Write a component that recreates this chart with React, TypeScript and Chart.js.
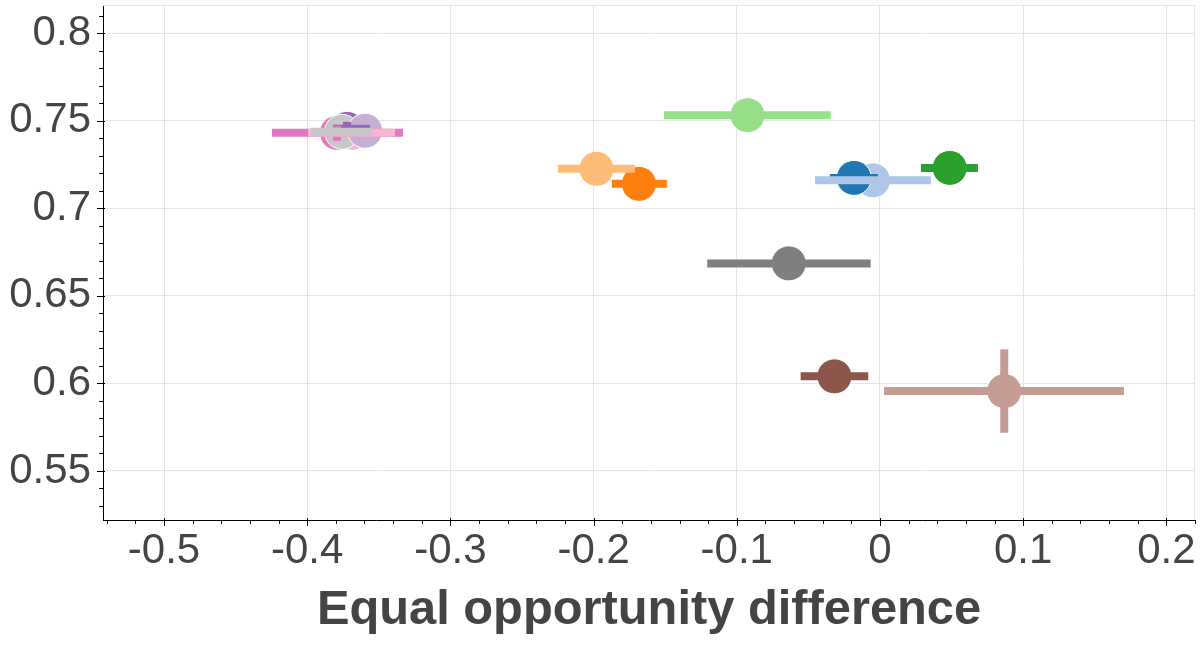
import React, { useEffect, useRef } from "react";
import { Chart, registerables } from "chart.js";

Chart.register(...registerables);

// one entry per model
const COLORS = [
  "#1f77b4", "#aec7e8", "#ff7f0e", "#ffbb78", "#2ca02c", "#98df8a", "#9467bd",
  "#c5b0d5", "#8c564b", "#c49c94", "#e377c2", "#f7b6d2", "#7f7f7f", "#c7c7c7",
];
const X_VALUES = [
  -0.0182, -0.0049, -0.1683, -0.198, 0.0487, -0.0925, -0.3722,
  -0.3596, -0.0318, 0.0868, -0.3792, -0.3687, -0.0637, -0.3757,
];
const Y_VALUES = [
  0.7173, 0.7159, 0.7139, 0.7225, 0.723, 0.7531, 0.7453,
  0.7442, 0.604, 0.5956, 0.743, 0.743, 0.6685, 0.7436,
];
const X_LOW = [
  -0.035, -0.0454, -0.1872, -0.2249, 0.0286, -0.1508, -0.382,
  -0.366, -0.0554, 0.0028, -0.4246, -0.3994, -0.1206, -0.3973,
];
const X_HIGH = [
  -0.0014, 0.0356, -0.1488, -0.1711, 0.0684, -0.0344, -0.3561,
  -0.353, -0.0082, 0.1704, -0.3331, -0.3387, -0.0065, -0.3547,
];
const Y_LOW: (number | null)[] = [
  null, null, null, null, null, null, 0.7413,
  null, null, 0.5718, 0.7385, null, null, null,
];
const Y_HIGH: (number | null)[] = [
  null, null, null, null, null, null, 0.7493,
  null, null, 0.6194, 0.747, null, null, null,
];

// stacking, bottom first
const CIRCLE_LAYERS = [1, 0, 3, 2, 5, 4, 12, 8, 9, 10, 11, 6, 13, 7];
const BAR_LAYERS = [7, 6, 10, 11, 13, 0, 1, 2, 3, 4, 5, 12, 8, 9];

const X_MIN = -0.5426;
const X_MAX = 0.22;
const Y_MIN = 0.522;
const Y_MAX = 0.816;
const X_MINOR_STEP = 0.02;
const Y_MINOR_STEP = 0.01;
const X_MAJOR_STEP = 0.1;
const Y_MAJOR_STEP = 0.05;

const FONT = "'Liberation Sans', Arial, Helvetica, sans-serif";
const TEXT = "#444444";
const GRID = "#e5e5e5";

const isMultiple = (v: number, step: number) =>
  Math.abs(v / step - Math.round(v / step)) < 1e-6;

const tickValues = (min: number, max: number, step: number) => {
  const out: { value: number }[] = [];
  for (let k = Math.ceil(min / step - 1e-9); k * step <= max + 1e-9; k++) {
    out.push({ value: Math.round(k * step * 1000) / 1000 });
  }
  return out;
};

const fmt = (v: number) => String(Number(v.toFixed(2)));

// no extra room for first/last labels, the frame is fixed
const clearPadding = (s: any) => {
  s.paddingTop = 0;
  s.paddingBottom = 0;
  s.paddingLeft = 0;
  s.paddingRight = 0;
};

const axisDecor = {
  id: "axisDecor",
  beforeDatasetsDraw(chart: any) {
    const { ctx, chartArea } = chart;
    ctx.save();
    ctx.strokeStyle = GRID;
    ctx.lineWidth = 1;
    ctx.beginPath();
    ctx.moveTo(chartArea.left, Math.round(chartArea.top) + 0.5);
    ctx.lineTo(chartArea.right, Math.round(chartArea.top) + 0.5);
    ctx.moveTo(Math.round(chartArea.right) - 0.5, chartArea.top);
    ctx.lineTo(Math.round(chartArea.right) - 0.5, chartArea.bottom);
    ctx.stroke();
    ctx.restore();
  },
  afterDraw(chart: any) {
    const { ctx, chartArea } = chart;
    const xs = chart.scales.x;
    const ys = chart.scales.y;
    ctx.save();
    ctx.strokeStyle = "#000";
    ctx.lineWidth = 1;
    ctx.beginPath();
    xs.ticks.forEach((t: any) => {
      const major = isMultiple(t.value, X_MAJOR_STEP);
      const px = Math.round(xs.getPixelForValue(t.value)) + 0.5;
      ctx.moveTo(px, chartArea.bottom - (major ? 2 : 0));
      ctx.lineTo(px, chartArea.bottom + (major ? 6 : 4));
    });
    ys.ticks.forEach((t: any) => {
      const major = isMultiple(t.value, Y_MAJOR_STEP);
      const py = Math.round(ys.getPixelForValue(t.value)) + 0.5;
      ctx.moveTo(chartArea.left + (major ? 2 : 0), py);
      ctx.lineTo(chartArea.left - (major ? 6 : 4), py);
    });
    ctx.stroke();
    ctx.restore();
  },
};

const App = () => {
  const canvasRef = useRef<HTMLCanvasElement>(null);

  useEffect(() => {
    document.body.style.margin = "0";
    if (!canvasRef.current) return;

    const datasets: any[] = [];
    let layer = 0;

    CIRCLE_LAYERS.forEach((i) => {
      datasets.push({
        data: [{ x: X_VALUES[i], y: Y_VALUES[i] }],
        pointRadius: 17.5,
        pointBackgroundColor: COLORS[i],
        pointBorderColor: "#ffffff",
        pointBorderWidth: 1,
        showLine: false,
        order: 100 - layer++,
      });
    });

    BAR_LAYERS.forEach((i) => {
      const bar = {
        borderColor: COLORS[i],
        borderWidth: 8,
        borderCapStyle: "butt",
        pointRadius: 0,
        showLine: true,
      };
      datasets.push({
        ...bar,
        data: [
          { x: X_LOW[i], y: Y_VALUES[i] },
          { x: X_HIGH[i], y: Y_VALUES[i] },
        ],
        order: 100 - layer++,
      });
      if (Y_LOW[i] !== null && Y_HIGH[i] !== null) {
        datasets.push({
          ...bar,
          data: [
            { x: X_VALUES[i], y: Y_LOW[i] },
            { x: X_VALUES[i], y: Y_HIGH[i] },
          ],
          order: 100 - layer++,
        });
      }
    });

    const chart = new Chart(canvasRef.current, {
      type: "scatter",
      data: { datasets },
      plugins: [axisDecor],
      options: {
        animation: false,
        responsive: true,
        maintainAspectRatio: false,
        events: [],
        layout: { autoPadding: false, padding: { top: 5, right: 5, left: 0, bottom: 0 } },
        plugins: { legend: { display: false }, tooltip: { enabled: false } },
        scales: {
          x: {
            type: "linear",
            min: X_MIN,
            max: X_MAX,
            afterBuildTicks: (s: any) => {
              s.ticks = tickValues(X_MIN, X_MAX, X_MINOR_STEP);
            },
            afterFit: (s: any) => {
              s.height = 130;
              clearPadding(s);
            },
            ticks: {
              autoSkip: false,
              maxRotation: 0,
              minRotation: 0,
              padding: 6,
              color: TEXT,
              font: { family: FONT, size: 42 },
              callback: (v: any) => (isMultiple(Number(v), X_MAJOR_STEP) ? fmt(Number(v)) : ""),
            },
            grid: {
              drawTicks: false,
              lineWidth: 1,
              color: (c: any) =>
                c.tick && isMultiple(c.tick.value, X_MAJOR_STEP) ? GRID : "rgba(0,0,0,0)",
            },
            border: { display: true, color: "#000", width: 1 },
            title: {
              display: true,
              text: "Equal opportunity difference",
              color: TEXT,
              font: { family: FONT, size: 48.8, weight: "bold" },
              padding: { top: 0, bottom: 10 },
            },
          },
          y: {
            type: "linear",
            min: Y_MIN,
            max: Y_MAX,
            afterBuildTicks: (s: any) => {
              s.ticks = tickValues(Y_MIN, Y_MAX, Y_MINOR_STEP);
            },
            afterFit: (s: any) => {
              s.width = 103;
              clearPadding(s);
            },
            ticks: {
              autoSkip: false,
              padding: 12,
              color: TEXT,
              font: { family: FONT, size: 42 },
              callback: (v: any) => (isMultiple(Number(v), Y_MAJOR_STEP) ? fmt(Number(v)) : ""),
            },
            grid: {
              drawTicks: false,
              lineWidth: 1,
              color: (c: any) =>
                c.tick && isMultiple(c.tick.value, Y_MAJOR_STEP) ? GRID : "rgba(0,0,0,0)",
            },
            border: { display: true, color: "#000", width: 1 },
          },
        },
      },
    } as any);

    return () => {
      chart.destroy();
    };
  }, []);

  return (
    <div style={{ width: "1200px", height: "650px", position: "relative" }}>
      <canvas ref={canvasRef}></canvas>
    </div>
  );
};

export default App;
